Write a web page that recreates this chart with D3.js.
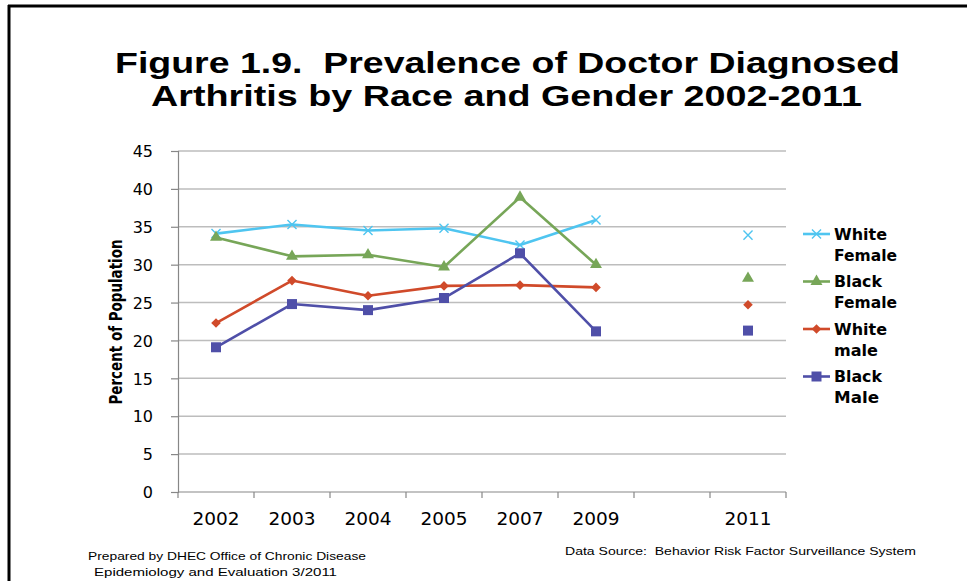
<!DOCTYPE html>
<html><head><meta charset="utf-8">
<script src="https://cdn.jsdelivr.net/npm/d3@7"></script>
<style>body{margin:0;background:#fff}svg{display:block}text{white-space:pre}</style>
</head><body>
<svg id="c" width="967" height="581"></svg>
<script>
const categories = ["2002","2003","2004","2005","2007","2009","","2011"];
const whiteFemale = [34.1, 35.3, 34.5, 34.8, 32.6, 35.9, null, 33.9];
const blackFemale = [33.6, 31.1, 31.3, 29.7, 38.9, 30.0, null, 28.2];
const whiteMale   = [22.3, 27.9, 25.9, 27.2, 27.3, 27.0, null, 24.7];
const blackMale   = [19.1, 24.8, 24.0, 25.6, 31.5, 21.2, null, 21.3];
const seriesNames = [["White","Female"],["Black","Female"],["White","male"],["Black","Male"]];
const yTicks = [0,5,10,15,20,25,30,35,40,45];
const titleLines = ["Figure 1.9.  Prevalence of Doctor Diagnosed","Arthritis by Race and Gender 2002-2011"];
const yTitle = "Percent of Population";
const footLeft = ["Prepared by DHEC Office of Chronic Disease","Epidemiology and Evaluation 3/2011"];
const footRight = "Data Source:  Behavior Risk Factor Surveillance System";

const series = [
  {name: seriesNames[0], values: whiteFemale, color: "#4FC5F0", sym: "x"},
  {name: seriesNames[1], values: blackFemale, color: "#77A658", sym: "tri"},
  {name: seriesNames[2], values: whiteMale,   color: "#D04A2A", sym: "dia"},
  {name: seriesNames[3], values: blackMale,   color: "#4F4FA8", sym: "sq"}
];

const svg = d3.select("#c");
// frame
svg.append("line").attr("x1",8).attr("x2",967).attr("y1",6).attr("y2",6).attr("stroke","#000").attr("stroke-width",3);
svg.append("line").attr("x1",9).attr("x2",9).attr("y1",5).attr("y2",581).attr("stroke","#000").attr("stroke-width",3);

// title
const tFont = "'Liberation Sans', Arial, sans-serif";
const tPos = [{x:115,y:73,w:785},{x:151,y:106,w:711}];
titleLines.forEach((t,i)=>{
  svg.append("text").attr("x",tPos[i].x).attr("y",tPos[i].y)
    .attr("font-family",tFont).attr("font-weight","bold").attr("font-size",29)
    .attr("textLength",tPos[i].w).attr("lengthAdjust","spacingAndGlyphs")
    .attr("fill","#000").text(t);
});

const x = d3.scaleBand().domain(categories).range([178,786]).paddingInner(0).paddingOuter(0);
const y = d3.scaleLinear().domain([0,45]).range([492,151]);
const cx = c => x(c) + x.bandwidth()/2;

// gridlines
svg.append("g").selectAll("line").data(yTicks.filter(d=>d>0)).join("line")
  .attr("x1",178).attr("x2",786).attr("y1",d=>y(d)).attr("y2",d=>y(d))
  .attr("stroke","#BDBDBD").attr("stroke-width",1.5);

// y axis
const yAxis = svg.append("g").attr("transform","translate(178,0)")
  .call(d3.axisLeft(y).tickValues(yTicks).tickSize(7).tickPadding(18).tickFormat(d3.format("d")));
yAxis.select(".domain").attr("stroke","#878787").attr("stroke-width",1.2);
yAxis.selectAll(".tick line").attr("stroke","#878787").attr("stroke-width",1.2);
yAxis.selectAll(".tick text").attr("font-family","'DejaVu Sans', sans-serif").attr("font-size",16).attr("fill","#000").attr("dy","0.36em");

// x axis
const xAxis = svg.append("g").attr("transform","translate(0,492)")
  .call(d3.axisBottom(x).tickSize(0).tickPadding(0));
xAxis.select(".domain").remove();
xAxis.selectAll(".tick text").attr("font-family","'DejaVu Sans', sans-serif").attr("font-size",18.5)
  .attr("fill","#000").attr("y",33).attr("dy",0);
const bounds = categories.map(c=>x(c)).concat([x.range()[1]]);
xAxis.append("line").attr("x1",x.range()[0]).attr("x2",x.range()[1]).attr("y1",0).attr("y2",0)
  .attr("stroke","#878787").attr("stroke-width",1.2);
xAxis.selectAll(".bt").data(bounds).join("line").attr("class","bt")
  .attr("x1",d=>d).attr("x2",d=>d).attr("y1",0).attr("y2",6)
  .attr("stroke","#878787").attr("stroke-width",1.2);

// y title
svg.append("text").attr("transform","translate(122,322) rotate(-90)")
  .attr("text-anchor","middle").attr("font-family","'DejaVu Sans', sans-serif")
  .attr("font-weight","bold").attr("font-size",17)
  .attr("textLength",165).attr("lengthAdjust","spacingAndGlyphs").attr("fill","#000").text(yTitle);

function marker(g, sym, color, px, py){
  if(sym==="x"){
    g.append("path").attr("d",d3.symbol(d3.symbolX, 55)()).attr("transform",`translate(${px},${py})`)
      .attr("fill","none").attr("stroke",color).attr("stroke-width",1.4);
  } else if(sym==="tri"){
    g.append("path").attr("d",d3.symbol(d3.symbolTriangle, 62)()).attr("transform",`translate(${px},${py})`)
      .attr("fill",color);
  } else if(sym==="dia"){
    g.append("path").attr("d",d3.symbol(d3.symbolSquare, 46)()).attr("transform",`translate(${px},${py}) rotate(45)`)
      .attr("fill",color);
  } else {
    g.append("path").attr("d",d3.symbol(d3.symbolSquare, 100)()).attr("transform",`translate(${px},${py})`)
      .attr("fill",color);
  }
}

const line = d3.line().defined(d=>d.v!=null).x(d=>cx(d.c)).y(d=>y(d.v));
series.forEach(s=>{
  const pts = categories.map((c,i)=>({c, v:s.values[i]}));
  const g = svg.append("g");
  g.append("path").datum(pts).attr("d",line).attr("fill","none")
    .attr("stroke",s.color).attr("stroke-width",2.6).attr("stroke-linejoin","round");
  pts.filter(p=>p.v!=null).forEach(p=>marker(g, s.sym, s.color, cx(p.c), y(p.v)));
});

// legend
const lg = svg.append("g");
const legY = [234, 281.5, 329, 376.5];
const legW = [[53,63],[48,63],[53,44],[48,45]];
series.forEach((s,i)=>{
  const ly = legY[i];
  lg.append("line").attr("x1",803).attr("x2",830).attr("y1",ly).attr("y2",ly)
    .attr("stroke",s.color).attr("stroke-width",2.6);
  marker(lg, s.sym, s.color, 816.5, ly);
  s.name.forEach((t,j)=>{
    lg.append("text").attr("x",834).attr("y",ly+5.5+j*21)
      .attr("font-family","'DejaVu Sans', sans-serif").attr("font-weight","bold").attr("font-size",15.5)
      .attr("textLength",legW[i][j]).attr("lengthAdjust","spacingAndGlyphs")
      .attr("fill","#000").text(t);
  });
});

// footers
const fFont = "'Liberation Sans', Arial, sans-serif";
svg.append("text").attr("x",88).attr("y",560).attr("font-family",fFont).attr("font-size",11)
  .attr("textLength",278).attr("lengthAdjust","spacingAndGlyphs").text(footLeft[0]);
svg.append("text").attr("x",94).attr("y",576).attr("font-family",fFont).attr("font-size",11)
  .attr("textLength",243).attr("lengthAdjust","spacingAndGlyphs").text(footLeft[1]);
svg.append("text").attr("x",565).attr("y",555).attr("font-family",fFont).attr("font-size",11)
  .attr("textLength",351).attr("lengthAdjust","spacingAndGlyphs").text(footRight);
</script>
</body></html>
